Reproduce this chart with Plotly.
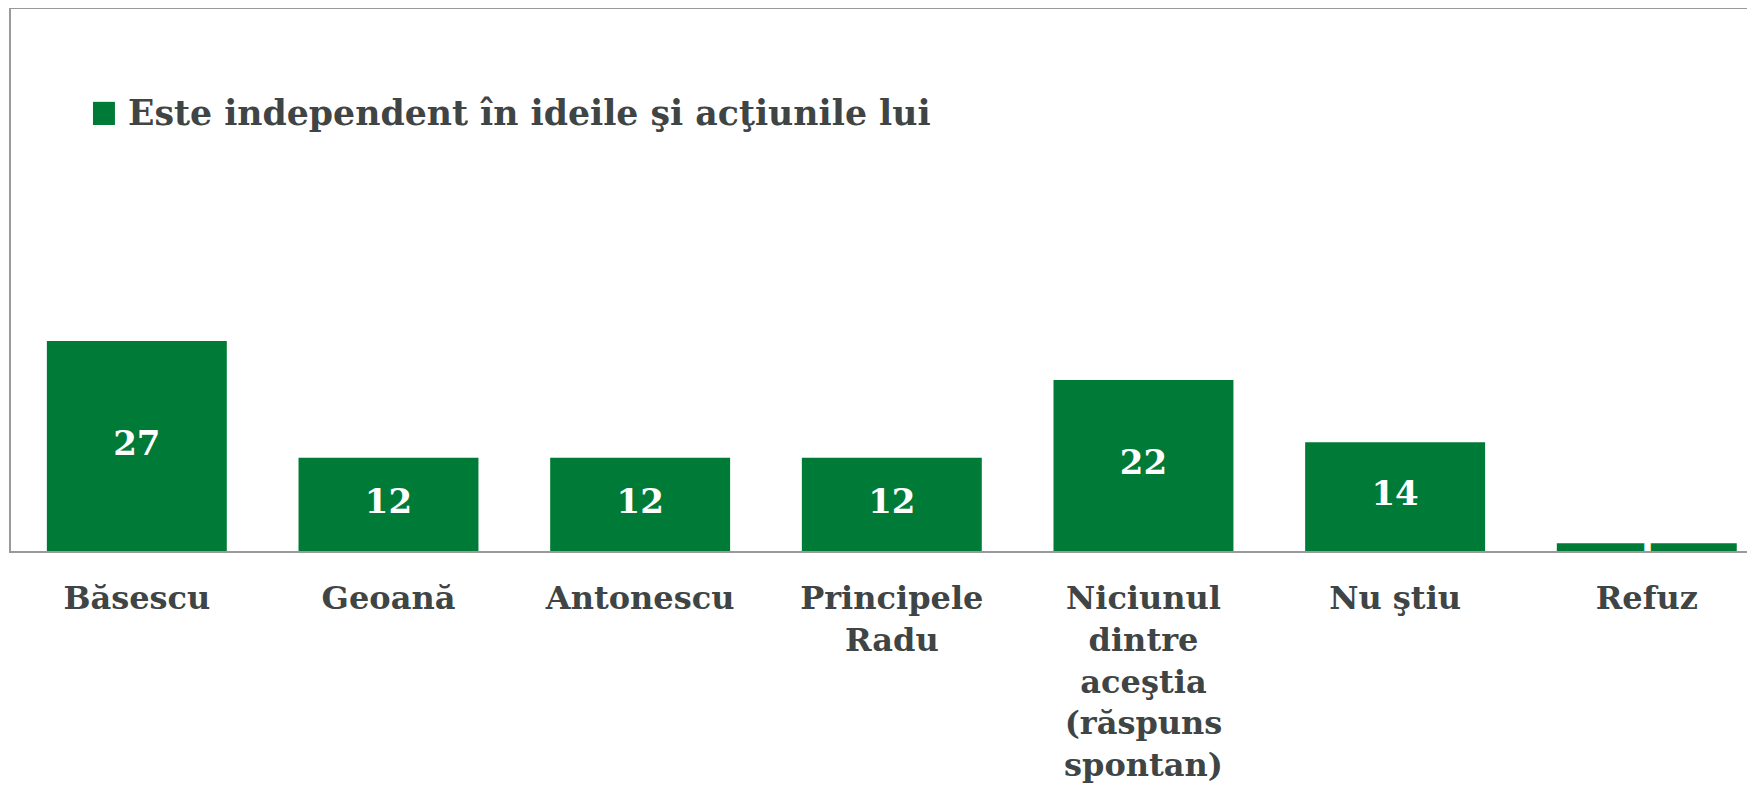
import plotly.graph_objects as go

categories = ["Băsescu", "Geoană", "Antonescu", "Principele<br>Radu",
              "Niciunul<br>dintre<br>aceştia<br>(răspuns<br>spontan)", "Nu ştiu", "Refuz"]
values = [27, 12, 12, 12, 22, 14, 1]
labels = ["27", "12", "12", "12", "22", "14", "1"]
series_name = "Este independent în ideile şi acţiunile lui"

GREEN = "#007A37"
TEXT = "#3F4545"
AXIS = "#9A9A9A"
FONT = "DejaVu Serif"

fig = go.Figure()
fig.add_trace(go.Bar(x=categories, y=values, marker=dict(color=GREEN, line=dict(width=0)),
                     name=series_name, showlegend=False, hoverinfo="skip"))
fig.add_trace(go.Scatter(x=categories, y=[v / 2 for v in values], text=labels, mode="text",
                         textfont=dict(family=FONT, size=34, color="white", weight="bold"),
                         showlegend=False, hoverinfo="skip"))

# page body has an 8px margin: figure spans 1747x777 so it ends at the window edge
fig.update_layout(
    width=1747, height=777,
    margin=dict(l=3, r=0, t=1, b=234),
    paper_bgcolor="white", plot_bgcolor="white",
    bargap=0.285,
    xaxis=dict(range=[-0.5, 6.43], showline=True, linecolor=AXIS, linewidth=2, mirror=True,
               ticks="outside", ticklen=18, tickcolor="rgba(0,0,0,0)",
               tickfont=dict(family=FONT, size=32, color=TEXT, weight="bold"),
               showgrid=False, zeroline=False, automargin=False, fixedrange=True),
    yaxis=dict(range=[0, 69.7], showline=True, linecolor=AXIS, linewidth=2,
               showticklabels=False, ticks="", showgrid=False, zeroline=False,
               automargin=False, fixedrange=True),
    shapes=[dict(type="rect", xref="paper", yref="paper", x0=0.047, x1=0.0596, y0=0.786, y1=0.8287,
                 fillcolor=GREEN, line=dict(width=0))],
    annotations=[dict(text=series_name, xref="paper", yref="paper", x=0.066, y=0.8085,
                      xanchor="left", yanchor="middle", showarrow=False,
                      font=dict(family=FONT, size=34.7, color=TEXT, weight="bold"))],
)

fig.write_html("out.html")
